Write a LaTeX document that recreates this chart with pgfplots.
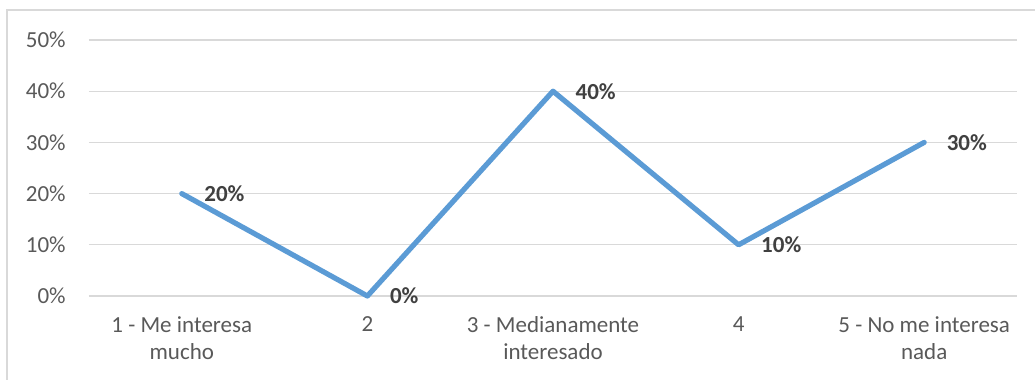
\documentclass[border=0pt]{standalone}
\usepackage{pgfplots}
\pgfplotsset{compat=1.18}
\usepackage{fontspec}
\setmainfont{Carlito}
\definecolor{serie}{HTML}{5B9BD5}
\definecolor{rejilla}{HTML}{D9D9D9}
\definecolor{textoeje}{HTML}{595959}
\definecolor{etiqueta}{HTML}{404040}
\begin{document}
\begin{tikzpicture}
\path[use as bounding box] (0,0) rectangle (517.5pt,190pt);
% chart frame
\draw[rejilla, line width=0.6pt] (3.5pt,0) -- (3.5pt,185pt) -- (517.5pt,185pt);
\begin{axis}[
  at={(44.5pt,42pt)}, anchor=south west,
  scale only axis, width=464pt, height=128pt,
  xmin=-0.5, xmax=4.5, ymin=0, ymax=50,
  axis line style={draw=none},
  major tick length=0pt,
  xtick={0,1,2,3,4},
  xticklabels={{1 - Me interesa\\mucho},{2},{3 - Medianamente\\interesado},{4},{5 - No me interesa\\nada}},
  ytick={0,10,20,30,40,50},
  ymajorgrids, grid style={rejilla, line width=0.65pt},
  yticklabel={\pgfmathprintnumber{\tick}\%},
  /pgf/number format/assume math mode=true,
  tick label style={font=\fontsize{11.5}{13.5}\selectfont, text=textoeje},
  yticklabel style={anchor=east, inner sep=0pt, xshift=-11.5pt},
  xticklabel style={anchor=north, align=center, inner sep=0pt, yshift=-10pt},
  clip=false,
  nodes near coords={\pgfmathprintnumber{\pgfplotspointmeta}\%},
  nodes near coords style={anchor=west, inner sep=0pt, xshift=10pt,
    font=\fontsize{11.5}{13.5}\selectfont\bfseries, text=etiqueta},
]
\addplot[serie, line width=2.6pt, line join=round, line cap=round, mark=none]
  coordinates {(0,20) (1,0) (2,40) (3,10) (4,30)};
\end{axis}
\end{tikzpicture}
\end{document}
